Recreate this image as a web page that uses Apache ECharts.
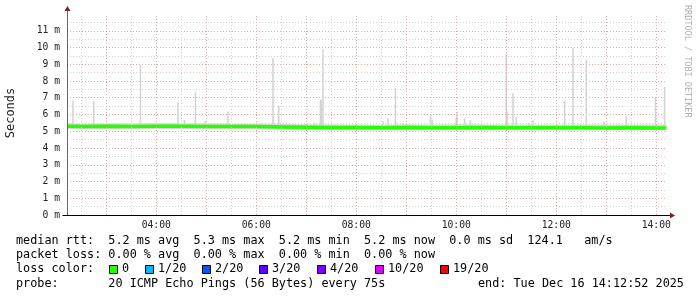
<!DOCTYPE html>
<html><head><meta charset="utf-8">
<script src="https://cdn.jsdelivr.net/npm/echarts@6/dist/echarts.min.js"></script>
<style>html,body{margin:0;padding:0;background:#fff}#c{width:697px;height:297px}</style>
</head><body><div id="c"></div>
<script>
// ---------- data ----------
const chartDate = [2025, 11, 16];
const startTime = "02:12:52";
const endTime = "14:12:52";
const yMax = 12;
const yLabelUnit = " m";
const hourLines = ["03:00","04:00","05:00","06:00","07:00","08:00","09:00","10:00","11:00","12:00","13:00","14:00"];
const halfHourLines = ["02:30","03:30","04:30","05:30","06:30","07:30","08:30","09:30","10:30","11:30","12:30","13:30"];
const labelHours = ["04:00","06:00","08:00","10:00","12:00","14:00"];

const medianTimes = ["02:13","02:30","03:00","03:30","04:00","04:30","05:00","05:30","06:00","06:30","07:00","07:30","08:00","08:30","09:00","09:30","10:00","10:30","11:00","11:30","12:00","12:30","13:00","13:30","14:00","14:12"];
const medianValues = [5.30,5.29,5.30,5.29,5.30,5.30,5.29,5.29,5.28,5.26,5.24,5.22,5.22,5.21,5.22,5.21,5.21,5.22,5.21,5.21,5.21,5.21,5.20,5.21,5.20,5.20];
const smokeLo = [5.13,5.12,5.13,5.12,5.13,5.12,5.13,5.12,5.12,5.10,5.09,5.08,5.08,5.07,5.08,5.07,5.08,5.08,5.07,5.08,5.07,5.08,5.07,5.07,5.07,5.07];
const smokeHi = [5.48,5.45,5.47,5.46,5.48,5.47,5.46,5.45,5.45,5.43,5.42,5.40,5.41,5.39,5.42,5.41,5.42,5.40,5.41,5.40,5.40,5.41,5.40,5.40,5.41,5.40];

const spikeTimes = ["02:20","02:45","03:41","04:26","04:34","04:47","04:59","05:26","06:20","06:27","07:10","07:17","07:18","07:20","08:32","08:38","08:47","08:56","09:29","09:31","10:00","10:01","10:10","10:17","11:00","11:01","11:08","11:12","11:27","11:32","12:10","12:20","12:36","12:57","13:24","13:59","14:10"];
const spikeValues = [6.83,6.80,8.95,6.72,5.68,7.37,5.60,6.17,9.37,6.53,5.50,6.87,6.87,9.90,5.60,5.78,7.57,5.50,5.94,5.68,5.80,6.17,5.78,5.68,9.60,6.20,7.27,5.82,5.50,5.68,6.82,9.96,9.26,5.54,5.94,7.00,7.67];
const spikeFloor = 5.15;

const legendLine1 = "median rtt:  5.2 ms avg  5.3 ms max  5.2 ms min  5.2 ms now  0.0 ms sd  124.1   am/s";
const legendLine2 = "packet loss: 0.00 % avg  0.00 % max  0.00 % min  0.00 % now";
const lossTitle = "loss color:";
const lossLabels = ["0","1/20","2/20","3/20","4/20","10/20","19/20"];
const lossColors = ["#26ff00","#00b8ff","#0059ff","#5e00ff","#7e00ff","#dd00ff","#ff0000"];
const probeLine = "probe:       20 ICMP Echo Pings (56 Bytes) every 75s";
const endLine = "end: Tue Dec 16 14:12:52 2025";
const yTitle = "Seconds";
const watermark = "RRDTOOL / TOBI OETIKER";

// ---------- helpers ----------
function ts(hm){ const p = hm.split(":").map(Number); return new Date(chartDate[0], chartDate[1], chartDate[2], p[0], p[1], p[2]||0).getTime(); }
const pad = n => (n<10?"0":"")+n;
const MONO = "'DejaVu Sans Mono', monospace";
const RED = "#e2abab", GRAY = "#d2d2d2";
const labelSet = new Set(labelHours);

const chart = echarts.init(document.getElementById('c'), null, {renderer:'canvas'});

const splitColors = [];
for (let i=0;i<yMax;i++) splitColors.push(RED);
splitColors.push('transparent');

const option = {
  animation:false,
  backgroundColor:'#fff',
  grid:{left:67, right:30, top:14, bottom:82},
  xAxis:{
    type:'time', min:ts(startTime), max:ts(endTime),
    minInterval:3600000, maxInterval:3600000,
    axisLine:{show:false}, axisTick:{show:false}, splitLine:{show:false},
    axisLabel:{
      formatter: v => { const d=new Date(v); const s=pad(d.getHours())+":"+pad(d.getMinutes()); return labelSet.has(s)?s:''; },
      fontFamily:MONO, fontSize:9.7, color:'#222', margin:5,
      showMinLabel:false, showMaxLabel:false, hideOverlap:false, interval:0
    }
  },
  yAxis:{
    type:'value', min:0, max:yMax, interval:1,
    axisLine:{show:false}, axisTick:{show:false},
    axisLabel:{formatter: v => v>=yMax ? '' : v + yLabelUnit, fontFamily:MONO, fontSize:9.7, color:'#222', margin:7},
    splitLine:{show:true, lineStyle:{color:splitColors, type:[1,2], width:1}},
    minorTick:{show:false, splitNumber:2},
    minorSplitLine:{show:true, lineStyle:{color:GRAY, type:[1,2], width:1}}
  },
  series:[
    { type:'line', data:[], z:1, silent:true,
      markLine:{ silent:true, symbol:'none', label:{show:false}, animation:false,
        data: halfHourLines.map(t=>({xAxis:ts(t), lineStyle:{color:GRAY, type:[1,2], width:1}}))
             .concat(hourLines.map(t=>({xAxis:ts(t), lineStyle:{color:RED, type:[1,2], width:1}})))
      }
    },
    { name:'smokeBase', type:'line', stack:'smoke', symbol:'none', silent:true, z:2,
      lineStyle:{width:0}, data: medianTimes.map((t,i)=>[ts(t), smokeLo[i]]) },
    { name:'smokeBand', type:'line', stack:'smoke', symbol:'none', silent:true, z:2,
      lineStyle:{width:0}, areaStyle:{color:'#d6d6d6', opacity:1},
      data: medianTimes.map((t,i)=>[ts(t), +(smokeHi[i]-smokeLo[i]).toFixed(3)]) },
    { name:'spikes', type:'custom', z:3, silent:true,
      encode:{x:0, y:[1,2]},
      data: spikeTimes.map((t,i)=>[ts(t), spikeFloor, spikeValues[i]]),
      renderItem:(params, api)=>{
        const top = api.coord([api.value(0), api.value(2)]);
        const bot = api.coord([api.value(0), api.value(1)]);
        return {type:'rect', shape:{x:top[0]-0.8, y:top[1], width:1.6, height:bot[1]-top[1]}, style:{fill:'#d4d4d4'}};
      }
    },
    { name:'median', type:'line', symbol:'none', silent:true, z:4,
      lineStyle:{color:lossColors[0], width:3.5},
      data: medianTimes.map((t,i)=>[ts(t), medianValues[i]]) }
  ]
};
chart.setOption(option);

// ---------- axes, arrows & text ----------
const o = chart.convertToPixel({gridIndex:0}, [ts(startTime), 0]);
const e = chart.convertToPixel({gridIndex:0}, [ts(endTime), yMax]);
const x0 = Math.round(o[0])+0.5, y0 = Math.round(o[1])+0.5;
const xr = e[0], yt = e[1];
const g = [];
g.push({type:'line', shape:{x1:x0, y1:y0, x2:x0, y2:yt-5}, style:{stroke:'#666', lineWidth:1}, z:10});
g.push({type:'line', shape:{x1:x0-5, y1:y0, x2:xr+4, y2:y0}, style:{stroke:'#000', lineWidth:1}, z:10});
g.push({type:'polygon', shape:{points:[[x0-3,yt-3],[x0+3,yt-3],[x0,yt-8]]}, style:{fill:'#8b1a1a'}, z:11});
g.push({type:'polygon', shape:{points:[[xr+3,y0-3],[xr+3,y0+3],[xr+8,y0]]}, style:{fill:'#8b1a1a'}, z:11});

const tstyle = (txt, fs, col) => ({text:txt, font: fs+"px "+MONO, fill:col, verticalAlign:'middle'});
g.push({type:'text', x:16, y:241, style:tstyle(legendLine1, 11.8, '#000'), z:10});
g.push({type:'text', x:16, y:255, style:tstyle(legendLine2, 11.8, '#000'), z:10});
g.push({type:'text', x:16, y:269, style:tstyle(lossTitle, 11.8, '#000'), z:10});
const boxX = [109, 145, 202, 259, 317, 375, 440];
lossLabels.forEach((lab,i)=>{
  g.push({type:'rect', shape:{x:boxX[i]+0.5, y:265.5, width:8, height:8}, style:{fill:lossColors[i], stroke:'#000', lineWidth:1}, z:10});
  g.push({type:'text', x:boxX[i]+13, y:269, style:tstyle(lab, 11.8, '#000'), z:10});
});
g.push({type:'text', x:16, y:284, style:tstyle(probeLine, 11.8, '#000'), z:10});
g.push({type:'text', x:478, y:284, style:tstyle(endLine, 11.8, '#000'), z:10});
g.push({type:'text', x:11, y:113, rotation:Math.PI/2, style:{text:yTitle, font:"12px "+MONO, fill:'#222', align:'center', verticalAlign:'middle'}, z:10});
g.push({type:'text', x:687, y:5, rotation:-Math.PI/2, style:{text:watermark, font:"8.5px "+MONO, fill:'#b0b0b0', align:'left', verticalAlign:'middle'}, z:10});
chart.setOption({graphic:{elements:g}});
</script>
</body></html>
